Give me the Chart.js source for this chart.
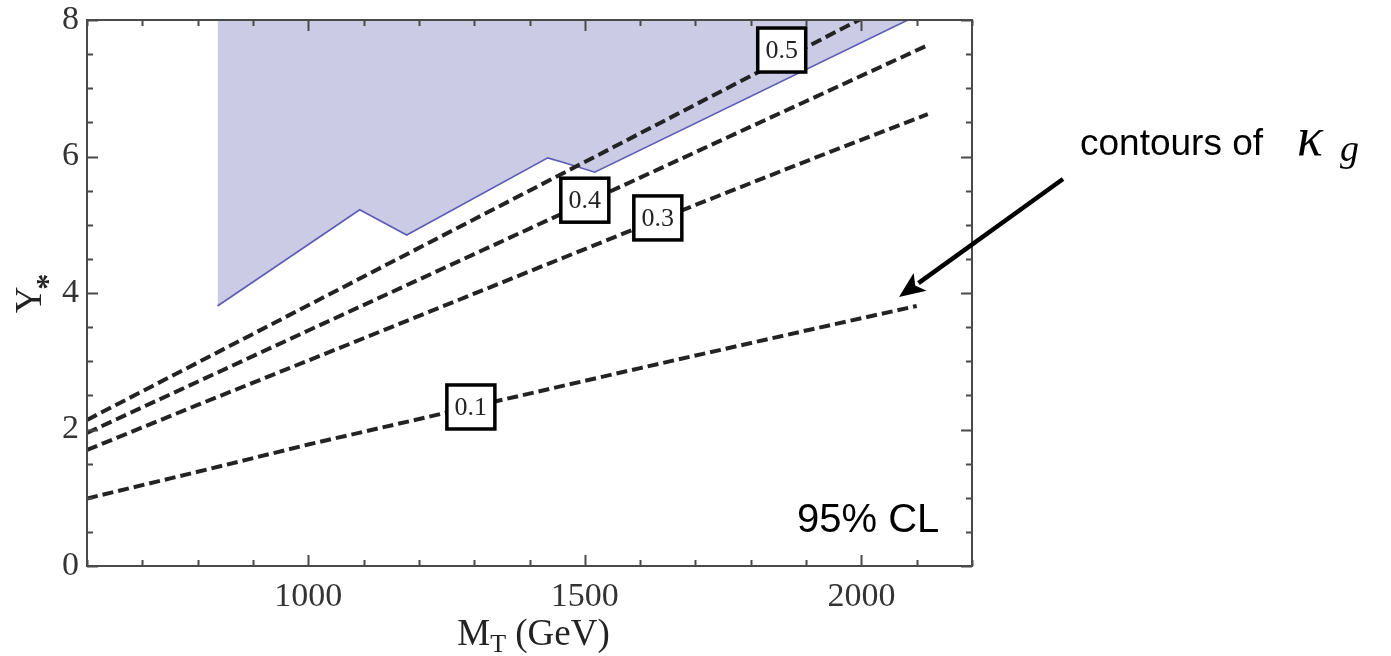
<!DOCTYPE html>
<html>
<head>
<meta charset="utf-8">
<script src="https://cdn.jsdelivr.net/npm/chart.js@4.4.1/dist/chart.umd.min.js"></script>
<style>
  html, body { margin: 0; padding: 0; background: #fff; }
  #wrap { width: 1391px; height: 656px; }
</style>
</head>
<body>
<div id="wrap"><canvas id="chart" width="1391" height="656"></canvas></div>
<script>
// ===== data =====
const kappaLevels = ['0.1', '0.3', '0.4', '0.5'];

const mass01 = [600, 800, 1000, 1300, 1600, 1900, 2100];
const ystar01 = [0.99, 1.38, 1.78, 2.34, 2.90, 3.45, 3.81];
const mass03 = [600, 800, 1000, 1300, 1600, 1900, 2120];
const ystar03 = [1.70, 2.36, 3.01, 3.99, 4.97, 5.93, 6.62];
const mass04 = [600, 800, 1000, 1300, 1600, 1900, 2120];
const ystar04 = [1.95, 2.70, 3.45, 4.57, 5.69, 6.81, 7.63];
const mass05 = [600, 800, 1000, 1300, 1600, 1900, 2000];
const ystar05 = [2.14, 2.98, 3.82, 5.08, 6.34, 7.60, 8.02];

// excluded region (shaded), boundary from below, filled up to the top
const excludedMass = [836, 1093, 1178, 1433, 1463, 1518, 2084];
const excludedYstar = [3.81, 5.22, 4.85, 5.98, 5.91, 5.77, 8.0];

// where the contour labels sit (data coords)
const labelMass = [1294, 1632, 1500, 1856];
const labelYstar = [2.33, 5.10, 5.36, 7.56];

const xTickLabels = [1000, 1500, 2000];
const yTickLabels = [0, 2, 4, 6, 8];

const toPoints = (xs, ys) => xs.map((x, i) => ({ x: x, y: ys[i] }));

const contourStyle = {
    borderColor: '#232323',
    borderWidth: 4,
    borderDash: [11, 5],
    pointRadius: 0,
    fill: false,
    tension: 0,
    order: 1
};

// ===== ticks, frame, labels and notes =====
const decor = {
    id: 'decor',
    afterDatasetsDraw(chart) {
        const { ctx, chartArea: a, scales: { x, y } } = chart;
        ctx.save();
        ctx.strokeStyle = '#4a4a4a';
        ctx.lineWidth = 2;
        // inward ticks on all four sides
        x.ticks.forEach(t => {
            const px = Math.round(x.getPixelForValue(t.value)) + 0.5;
            const len = t.value % 500 === 0 ? 11 : 6;
            ctx.beginPath();
            ctx.moveTo(px, a.bottom); ctx.lineTo(px, a.bottom - len);
            ctx.moveTo(px, a.top); ctx.lineTo(px, a.top + len);
            ctx.stroke();
        });
        y.ticks.forEach(t => {
            const py = Math.round(y.getPixelForValue(t.value)) + 0.5;
            const len = t.value % 2 === 0 ? 11 : 6;
            ctx.beginPath();
            ctx.moveTo(a.left, py); ctx.lineTo(a.left + len, py);
            ctx.moveTo(a.right, py); ctx.lineTo(a.right - len, py);
            ctx.stroke();
        });
        ctx.strokeRect(a.left, a.top, a.right - a.left, a.bottom - a.top);

        // contour value boxes
        ctx.font = '26px "Liberation Serif"';
        ctx.textAlign = 'center';
        ctx.textBaseline = 'middle';
        kappaLevels.forEach((lab, i) => {
            const cx = x.getPixelForValue(labelMass[i]);
            const cy = y.getPixelForValue(labelYstar[i]);
            const w = 48, h = 44;
            ctx.fillStyle = '#fff';
            ctx.fillRect(cx - w / 2, cy - h / 2, w, h);
            ctx.lineWidth = 3.5;
            ctx.strokeStyle = '#000';
            ctx.strokeRect(cx - w / 2, cy - h / 2, w, h);
            ctx.fillStyle = '#222';
            ctx.fillText(lab, cx, cy + 1);
        });
        ctx.restore();
    },
    afterDraw(chart) {
        const { ctx, chartArea: a, scales: { x, y } } = chart;
        ctx.save();
        ctx.fillStyle = '#222';
        ctx.textBaseline = 'alphabetic';
        ctx.textAlign = 'left';

        // x title: M_T (GeV)
        const big = '37px "Liberation Serif"', sub = '26px "Liberation Serif"';
        ctx.font = big; const wM = ctx.measureText('M').width;
        const wRest = ctx.measureText(' (GeV)').width;
        ctx.font = sub; const wT = ctx.measureText('T').width;
        let sx = (a.left + a.right) / 2 + 4 - (wM + wT + wRest) / 2;
        ctx.font = big; ctx.fillText('M', sx, 645);
        ctx.font = sub; ctx.fillText('T', sx + wM, 652);
        ctx.font = big; ctx.fillText(' (GeV)', sx + wM + wT, 645);

        // y title: Y_*
        ctx.save();
        ctx.translate(41, 300);
        ctx.rotate(-Math.PI / 2);
        ctx.font = big; const wY = ctx.measureText('Y').width;
        ctx.fillText('Y', -wY / 2, 0);
        ctx.font = 'bold 32px "Liberation Serif"';
        ctx.fillText('*', wY / 2 - 3, 17);
        ctx.restore();

        // notes
        ctx.fillStyle = '#000';
        ctx.font = '40px "Liberation Sans"';
        ctx.fillText('95% CL', 797, 532);
        ctx.font = '37px "Liberation Sans"';
        ctx.fillText('contours of', 1080, 155);
        ctx.font = 'italic 54px "Liberation Serif"';
        ctx.fillText('κ', 1297, 155);
        ctx.font = 'italic 38px "Liberation Serif"';
        ctx.fillText('g', 1340, 161);

        // arrow pointing at the 0.1 contour
        const tipX = x.getPixelForValue(2068), tipY = y.getPixelForValue(3.94);
        const tailX = 1063, tailY = 179;
        const ang = Math.atan2(tipY - tailY, tipX - tailX);
        const headL = 26, headW = 11;
        const bx = tipX - headL * Math.cos(ang), by = tipY - headL * Math.sin(ang);
        ctx.strokeStyle = '#000';
        ctx.lineWidth = 4.5;
        ctx.beginPath();
        ctx.moveTo(tailX, tailY); ctx.lineTo(bx + 2 * Math.cos(ang), by + 2 * Math.sin(ang));
        ctx.stroke();
        ctx.beginPath();
        ctx.moveTo(tipX, tipY);
        ctx.lineTo(bx + headW * Math.sin(ang), by - headW * Math.cos(ang));
        ctx.lineTo(bx + 6 * Math.cos(ang), by + 6 * Math.sin(ang));
        ctx.lineTo(bx - headW * Math.sin(ang), by + headW * Math.cos(ang));
        ctx.closePath();
        ctx.fill();
        ctx.restore();
    }
};

new Chart(document.getElementById('chart').getContext('2d'), {
    type: 'line',
    data: {
        datasets: [
            Object.assign({ label: kappaLevels[0], data: toPoints(mass01, ystar01) }, contourStyle),
            Object.assign({ label: kappaLevels[1], data: toPoints(mass03, ystar03) }, contourStyle),
            Object.assign({ label: kappaLevels[2], data: toPoints(mass04, ystar04) }, contourStyle),
            Object.assign({ label: kappaLevels[3], data: toPoints(mass05, ystar05) }, contourStyle),
            {
                label: 'excluded',
                data: toPoints(excludedMass, excludedYstar),
                borderColor: '#5c5cb4',
                borderWidth: 1.6,
                backgroundColor: '#cccbe6',
                pointRadius: 0,
                fill: 'end',
                tension: 0,
                order: 10
            }
        ]
    },
    options: {
        responsive: false,
        animation: false,
        layout: { padding: { left: 0, top: 20, right: 419, bottom: 0 } },
        plugins: {
            legend: { display: false },
            tooltip: { enabled: false }
        },
        scales: {
            x: {
                type: 'linear',
                min: 600,
                max: 2200,
                afterFit(s) { s.height = 90; s.paddingLeft = 0; s.paddingRight = 0; },
                grid: { display: false, drawTicks: false, tickLength: 0 },
                border: { display: false },
                ticks: {
                    stepSize: 100,
                    autoSkip: false,
                    maxRotation: 0,
                    padding: 11,
                    color: '#333',
                    font: { family: 'Liberation Serif', size: 34 },
                    callback: v => xTickLabels.includes(v) ? String(v) : ''
                }
            },
            y: {
                min: 0,
                max: 8,
                afterFit(s) { s.width = 87; s.paddingTop = 0; s.paddingBottom = 0; },
                grid: { display: false, drawTicks: false, tickLength: 0 },
                border: { display: false },
                ticks: {
                    stepSize: 0.5,
                    autoSkip: false,
                    padding: 8,
                    color: '#333',
                    font: { family: 'Liberation Serif', size: 34 },
                    callback: v => yTickLabels.includes(v) ? String(v) : ''
                }
            }
        }
    },
    plugins: [decor]
});
</script>
</body>
</html>
